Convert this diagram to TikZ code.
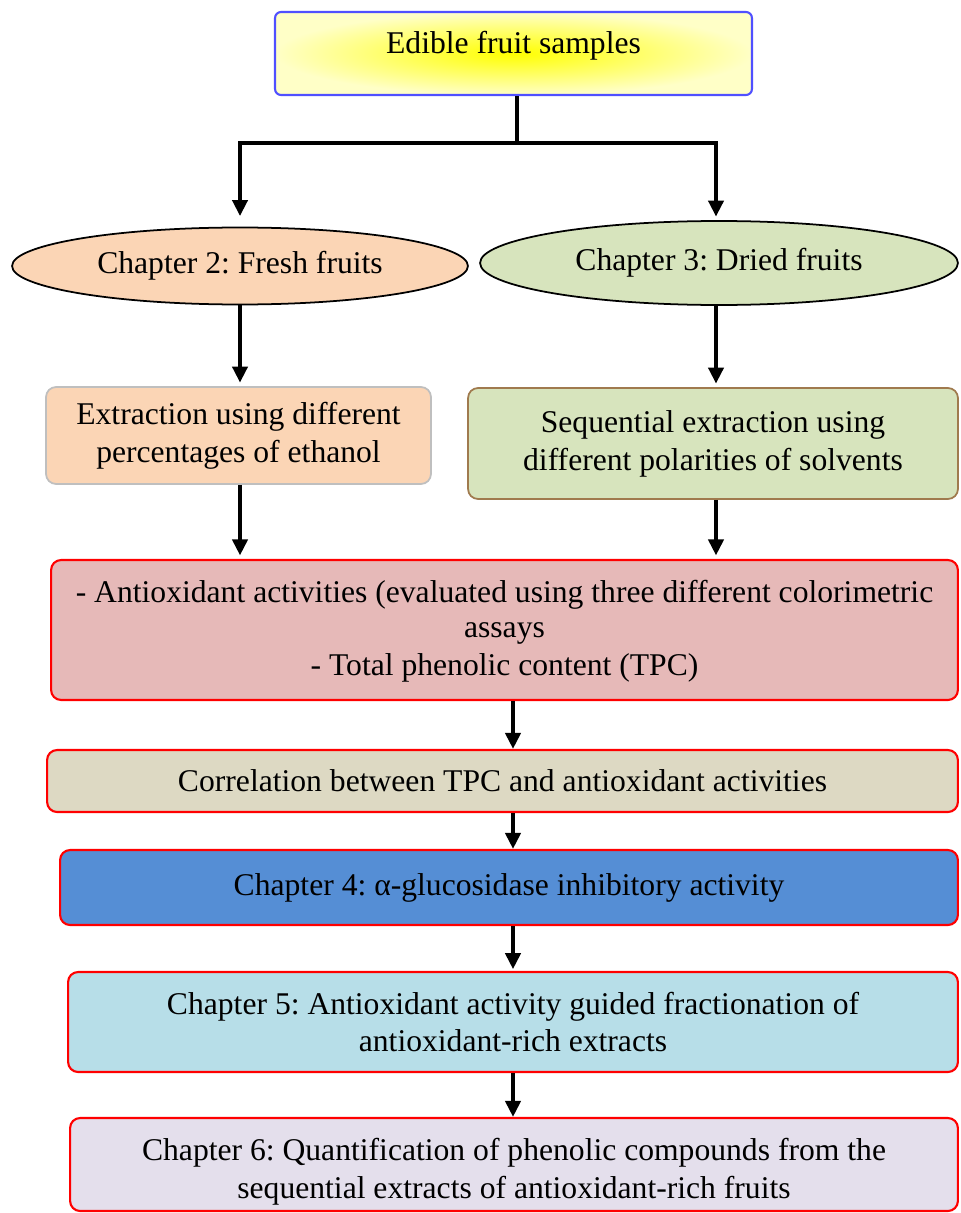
\documentclass[tikz,border=0pt]{standalone}
\usepackage{fontspec}
\setmainfont{Liberation Serif}
\frenchspacing
\usepackage{tikz}
\usetikzlibrary{arrows.meta,shapes.geometric}

\definecolor{peach}{HTML}{FBD5B5}
\definecolor{sage}{HTML}{D7E4BD}
\definecolor{rose}{HTML}{E6B9B8}
\definecolor{sand}{HTML}{DDD9C3}
\definecolor{steel}{HTML}{558ED5}
\definecolor{sky}{HTML}{B7DEE8}
\definecolor{lilac}{HTML}{E4DFEC}
\definecolor{bark}{HTML}{A07A4E}

\begin{document}
\begin{tikzpicture}[x=0.02cm, y=-0.02cm,
	txt/.style={font=\fontsize{18}{21.6}\selectfont, align=center, inner sep=0pt},
	box/.style={txt, rectangle, rounded corners=0.2cm, line width=1pt},
	redbox/.style={box, draw=red, line width=1.2pt},
	blob/.style={txt, ellipse, draw=black, line width=1pt},
	link/.style={line width=2.2pt},
	arrow/.style={link, -{Triangle[length=3.2mm, width=3mm]}}]
	\useasboundingbox (0,0) rectangle (960,1213);

	\node[box, rounded corners=0.12cm, draw={rgb,255:red,80;green,80;blue,255}, line width=1.2pt,
		inner color=yellow, outer color=yellow!22, minimum width=9.54cm, minimum height=1.66cm]
		(samples) at (513.5,53.5) {\raisebox{0.16cm}[0.7em][0.2em]{Edible fruit samples}};

	\node[blob, fill=peach, minimum width=9.12cm, minimum height=1.54cm] (fresh) at (240,266) {Chapter 2: Fresh fruits};
	\node[blob, fill=sage, minimum width=9.56cm, minimum height=1.68cm] (dried) at (719,263) {\raisebox{0.06cm}{Chapter 3: Dried fruits}};

	\node[box, fill=peach, draw=black!25, minimum width=7.7cm, minimum height=1.94cm] (ethanol) at (238.5,435.5)
		{Extraction using different\\percentages of ethanol};
	\node[box, fill=sage, draw=bark, minimum width=9.8cm, minimum height=2.22cm] (solvents) at (713,443.5)
		{\raisebox{0.06cm}{Sequential extraction using}\\\raisebox{0.06cm}{different polarities of solvents}};

	\node[redbox, fill=rose, minimum width=18.14cm, minimum height=2.8cm] (assays) at (504.5,630)
		{\raisebox{-0.05cm}[0.7em][0.2em]{- Antioxidant activities (evaluated using three different colorimetric}\\assays\\- Total phenolic content (TPC)};
	\node[redbox, fill=sand, minimum width=18.22cm, minimum height=1.24cm] (correlation) at (502.5,781)
		{Correlation between TPC and antioxidant activities};
	\node[redbox, fill=steel, minimum width=17.96cm, minimum height=1.5cm] (glucosidase) at (509,887.5)
		{\raisebox{0.1cm}{Chapter 4: α-glucosidase inhibitory activity}};
	\node[redbox, fill=sky, minimum width=17.8cm, minimum height=2.0cm] (fractions) at (513,1022)
		{Chapter 5: Antioxidant activity guided fractionation of\\antioxidant-rich extracts};
	\node[redbox, fill=lilac, minimum width=17.76cm, minimum height=1.86cm] (phenolics) at (514,1164.5)
		{\raisebox{-0.14cm}[0.7em][0.2em]{Chapter 6: Quantification of phenolic compounds from the}\\
		\raisebox{-0.14cm}[0.7em][0.2em]{sequential extracts of antioxidant-rich fruits}};

	\coordinate (split) at (517,143);
	\coordinate (spine) at (513,0);

	\draw[link] (samples.south -| split) -- (split);
	\draw[arrow, shorten >=6pt] (split) -| (fresh.north);
	\draw[arrow, shorten >=2pt] (split) -| ([xshift=-0.06cm]dried.north);
	\draw[arrow, shorten >=2pt] (fresh.south) -- (fresh.south |- ethanol.north);
	\draw[arrow, shorten >=2pt] ([xshift=-0.06cm]dried.south) -- ([xshift=-0.06cm]dried.south |- solvents.north);
	\draw[arrow, shorten >=2pt] (ethanol.south -| fresh.south) -- (assays.north -| fresh.south);
	\draw[arrow, shorten >=2pt] (solvents.south -| 716,0) -- (assays.north -| 716,0);
	\draw[arrow] (assays.south -| spine) -- (correlation.north -| spine);
	\draw[arrow] (correlation.south -| spine) -- (glucosidase.north -| spine);
	\draw[arrow, shorten >=1pt] (glucosidase.south -| spine) -- (fractions.north -| spine);
	\draw[arrow] (fractions.south -| spine) -- (phenolics.north -| spine);
\end{tikzpicture}
\end{document}
